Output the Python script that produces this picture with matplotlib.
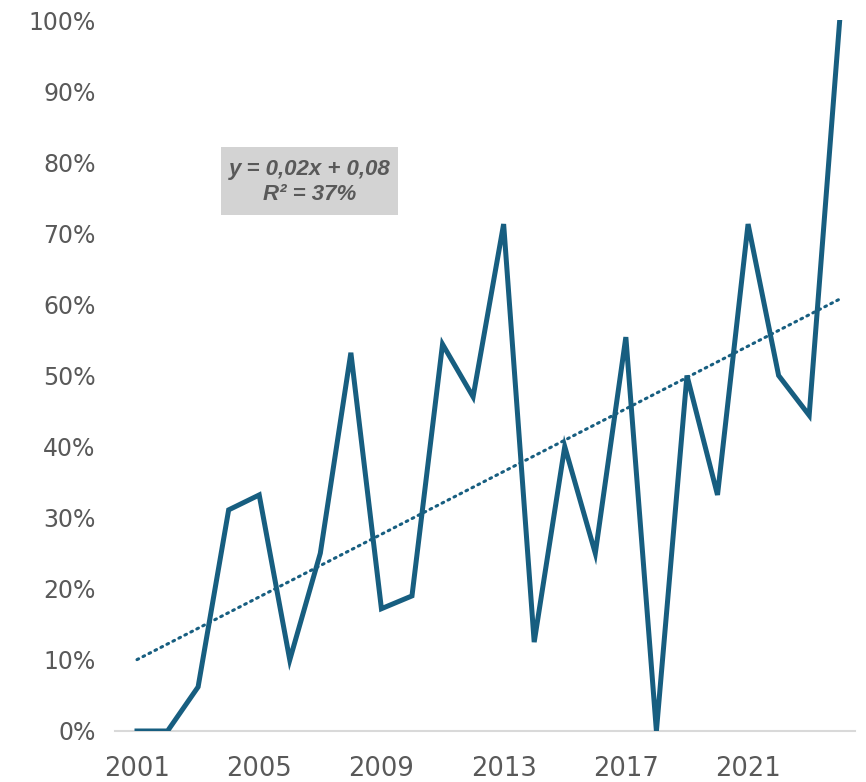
import matplotlib
matplotlib.use("Agg")
import matplotlib.pyplot as plt
import numpy as np
from matplotlib.ticker import FuncFormatter
from matplotlib.patches import Rectangle

years = list(range(2001, 2025))
values = [0.0, 0.0, 0.062, 0.311, 0.332, 0.10, 0.25, 0.532, 0.172, 0.19,
          0.544, 0.47, 0.713, 0.125, 0.40, 0.25, 0.554, 0.0, 0.50, 0.332,
          0.713, 0.50, 0.444, 1.0]
x_ticks = [2001, 2005, 2009, 2013, 2017, 2021]
y_ticks = [0, 0.1, 0.2, 0.3, 0.4, 0.5, 0.6, 0.7, 0.8, 0.9, 1.0]
eq_text = "y = 0,02x + 0,08\nR² = 37%"

line_color = "#175E80"
text_color = "#595959"

fig = plt.figure(figsize=(8.66, 7.82), dpi=100)
ax = fig.add_axes([115/866, 51/782, 740/866, 711/782])

x = np.array(years)
y = np.array(values)
ax.plot(x, y, color=line_color, lw=3.6, solid_joinstyle="miter", zorder=3)

coef = np.polyfit(x - x[0] + 1, y, 1)
trend = np.polyval(coef, x - x[0] + 1)
ax.plot(x, trend, color=line_color, lw=2.2, linestyle=(0, (0.6, 1.6)),
        dash_capstyle="round", zorder=2)

ax.set_xlim(2000.28, 2024.5)
ax.set_ylim(0, 1.0)
ax.set_xticks(x_ticks)
ax.set_yticks(y_ticks)
ax.yaxis.set_major_formatter(FuncFormatter(lambda v, p: f"{v*100:.0f}%"))

for s in ["top", "right", "left"]:
    ax.spines[s].set_visible(False)
ax.spines["bottom"].set_color("#D9D9D9")
ax.spines["bottom"].set_linewidth(1.5)
ax.spines["bottom"].set_zorder(1)

ax.tick_params(axis="both", length=0, colors=text_color, labelsize=17)
ax.tick_params(axis="y", pad=14)
ax.tick_params(axis="x", pad=18)
for lab in ax.get_xticklabels():
    lab.set_fontfamily("Liberation Sans Narrow")
    lab.set_fontsize(18.5)

fig.patches.append(Rectangle((221/866, (782-215)/782), 177/866, 68/782,
                             transform=fig.transFigure, facecolor="#D3D3D3",
                             edgecolor="none", zorder=4))
fig.text(309.5/866, (782-182)/782, eq_text,
         ha="center", va="center", fontsize=16, fontweight="bold",
         fontstyle="italic", family="Liberation Sans", color=text_color,
         linespacing=1.3, zorder=5)

fig.savefig("out.png", dpi=100)
